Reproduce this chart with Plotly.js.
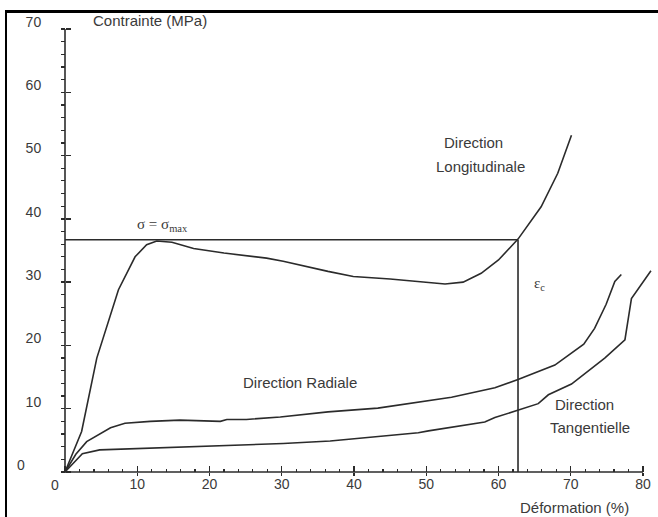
<!DOCTYPE html>
<html>
<head>
<meta charset="utf-8">
<script src="https://cdn.plot.ly/plotly-3.0.1.min.js"></script>
<style>
  html, body { margin: 0; padding: 0; background: #fff; }
  #wrap { position: relative; width: 658px; height: 517px; overflow: hidden; }
  #chart { width: 658px; height: 517px; }
  #frame { position: absolute; left: 5px; top: 10px; width: 800px; height: 700px;
           border-left: 2px solid #000; border-top: 3px solid #000; pointer-events: none; }
</style>
</head>
<body>
<div id="wrap"><div id="chart"></div><div id="frame"></div></div>
<script>
// ---- data ----
const longX = [0, 2.3, 4.4, 7.4, 9.7, 11.3, 12.7, 14.8, 17.8, 22.0, 27.9, 30.2, 36.4, 39.9, 45.0, 52.6, 55.1, 57.6, 60.0, 62.7, 65.9, 68.2, 70.1];
const longY = [0, 6.4, 18.0, 28.8, 34.0, 35.9, 36.5, 36.3, 35.3, 34.6, 33.8, 33.3, 31.7, 30.9, 30.5, 29.7, 30.0, 31.4, 33.5, 36.8, 41.9, 47.2, 53.2];

const radX = [0, 1.5, 3.0, 6.3, 8.3, 11.8, 15.9, 21.5, 22.4, 25.1, 29.8, 33.4, 36.4, 43.3, 52.6, 53.5, 59.5, 61.5, 62.7, 67.8, 71.8, 73.3, 74.9, 76.1, 77.0];
const radY = [0, 2.8, 4.8, 7.0, 7.7, 8.0, 8.2, 8.0, 8.3, 8.3, 8.7, 9.1, 9.5, 10.1, 11.6, 11.8, 13.3, 14.1, 14.6, 16.9, 20.2, 22.7, 26.5, 30.1, 31.2];

const tanX = [0, 2.4, 4.8, 9.5, 16.4, 23.3, 30.2, 36.7, 41.0, 48.9, 50.3, 58.1, 59.5, 62.7, 65.5, 66.9, 70.1, 74.7, 77.5, 78.0, 78.4, 81.1];
const tanY = [0, 2.9, 3.5, 3.7, 3.9, 4.2, 4.5, 4.9, 5.4, 6.2, 6.5, 7.9, 8.6, 9.8, 10.8, 12.2, 13.9, 18.0, 20.9, 24.5, 27.4, 31.8];

const sigmaMax = 36.7;   // horizontal line sigma = sigma_max
const epsC = 62.7;       // vertical line epsilon_c

const xMajor = [0, 10, 20, 30, 40, 50, 60, 70, 80];
const xLabels = ['', '10', '20', '30', '40', '50', '60', '70', '80'];
const yMajor = [0, 10, 20, 30, 40, 50, 60, 70];
const yLabels = ['', '10', '20', '30', '40', '50', '60', '70'];
const X_MAX = 80, Y_MAX = 70, MINOR_STEP = 2;

// ---- layout geometry ----
const W = 658, H = 517;
const mL = 55, mR = 0, mT = 0, mB = 37;
const xRange = [-1.384, 82.076];
const yRange = [-1.264, 74.58];

const xMinor = [], yMinor = [];
for (let v = 0; v <= X_MAX; v += MINOR_STEP) if (v % 10) xMinor.push(v);
for (let v = 0; v <= Y_MAX; v += MINOR_STEP) if (v % 10) yMinor.push(v);

const yAxisPos = (0 - xRange[0]) / (xRange[1] - xRange[0]);
const xAxisPos = (0 - yRange[0]) / (yRange[1] - yRange[0]);

const lineCol = '#2b2b2b';
const txtCol = '#3a3a3a';
const sans = 'Liberation Sans, Arial, sans-serif';
const serif = 'Liberation Serif, Times New Roman, serif';

const lineStyle = {color: lineCol, width: 1.6};
const traces = [
  {x: longX, y: longY, mode: 'lines', line: lineStyle, name: 'Direction Longitudinale'},
  {x: radX, y: radY, mode: 'lines', line: lineStyle, name: 'Direction Radiale'},
  {x: tanX, y: tanY, mode: 'lines', line: lineStyle, name: 'Direction Tangentielle'},
  {x: [0, epsC], y: [sigmaMax, sigmaMax], mode: 'lines', line: lineStyle, name: 'sigma max'},
  {x: [epsC, epsC], y: [sigmaMax, 0], mode: 'lines', line: lineStyle, name: 'eps c'},
  {x: [0], y: [0], mode: 'markers', marker: {opacity: 0}, xaxis: 'x2', yaxis: 'y2', hoverinfo: 'skip'}
];

const tickFont = {family: sans, size: 14, color: txtCol};

const layout = {
  width: W, height: H,
  margin: {l: mL, r: mR, t: mT, b: mB, pad: 0},
  paper_bgcolor: '#fff', plot_bgcolor: '#fff',
  showlegend: false,
  xaxis: {
    range: xRange, anchor: 'free', position: xAxisPos,
    showline: false, showgrid: false, zeroline: false,
    tickmode: 'array', tickvals: xMajor, ticktext: xLabels,
    ticks: 'inside', ticklen: 6, tickwidth: 1.3, tickcolor: lineCol,
    tickfont: tickFont, ticklabelstandoff: 2,
    minor: {tickmode: 'array', tickvals: xMinor, ticks: 'inside', ticklen: 3, tickwidth: 1.2, tickcolor: lineCol, showgrid: false}
  },
  yaxis: {
    range: yRange, anchor: 'free', position: yAxisPos,
    showline: false, showgrid: false, zeroline: false,
    tickmode: 'array', tickvals: yMajor, ticktext: yLabels,
    ticks: 'outside', ticklen: 4, tickwidth: 1.3, tickcolor: lineCol,
    tickfont: tickFont, ticklabelstandoff: 17, ticklabelshift: -7,
    minor: {tickmode: 'array', tickvals: yMinor, ticks: 'outside', ticklen: 4, tickwidth: 1.2, tickcolor: lineCol, showgrid: false}
  },
  xaxis2: {
    range: xRange, overlaying: 'x', anchor: 'free', position: xAxisPos,
    showline: false, showgrid: false, zeroline: false, showticklabels: false,
    tickmode: 'array', tickvals: xMajor.slice(1),
    ticks: 'outside', ticklen: 3, tickwidth: 1.3, tickcolor: lineCol
  },
  yaxis2: {
    range: yRange, overlaying: 'y', anchor: 'free', position: yAxisPos,
    showline: false, showgrid: false, zeroline: false, showticklabels: false,
    tickmode: 'array', tickvals: yMajor,
    ticks: 'inside', ticklen: 5, tickwidth: 1.3, tickcolor: lineCol
  },
  shapes: [
    {type: 'line', xref: 'x', yref: 'y', x0: 0, x1: X_MAX, y0: 0, y1: 0, line: {color: lineCol, width: 1.6}},
    {type: 'line', xref: 'x', yref: 'y', x0: 0, x1: 0, y0: 0, y1: Y_MAX, line: {color: lineCol, width: 1.6}}
  ],
  annotations: [
    {text: 'Contrainte (MPa)', x: 3.6, y: 71.4, xref: 'x', yref: 'y', xanchor: 'left', yanchor: 'middle', showarrow: false, font: {family: sans, size: 15, color: txtCol}},
    {text: 'Déformation (%)', x: 0.8607, y: -0.0583, xref: 'paper', yref: 'paper', xanchor: 'center', yanchor: 'middle', showarrow: false, font: {family: sans, size: 15, color: txtCol}},
    {text: '0', x: -0.0556, y: 0.03125, xref: 'paper', yref: 'paper', xanchor: 'center', yanchor: 'middle', showarrow: false, font: tickFont},
    {text: '0', x: 0.0, y: -0.0104, xref: 'paper', yref: 'paper', xanchor: 'center', yanchor: 'middle', showarrow: false, font: tickFont},
    {text: 'σ = σ<sub>max</sub>', x: 9.69, y: 39.0, xref: 'x', yref: 'y', xanchor: 'left', yanchor: 'middle', showarrow: false, font: {family: serif, size: 15, color: txtCol}},
    {text: 'ε<sub>c</sub>', x: 64.6, y: 29.7, xref: 'x', yref: 'y', xanchor: 'left', yanchor: 'middle', showarrow: false, font: {family: serif, size: 15, color: txtCol}},
    {text: 'Direction', x: 56.47, y: 52.14, xref: 'x', yref: 'y', xanchor: 'center', yanchor: 'middle', showarrow: false, font: {family: sans, size: 15, color: txtCol}},
    {text: 'Longitudinale', x: 57.44, y: 48.35, xref: 'x', yref: 'y', xanchor: 'center', yanchor: 'middle', showarrow: false, font: {family: sans, size: 15, color: txtCol}},
    {text: 'Direction Radiale', x: 32.53, y: 14.22, xref: 'x', yref: 'y', xanchor: 'center', yanchor: 'middle', showarrow: false, font: {family: sans, size: 15, color: txtCol}},
    {text: 'Direction', x: 71.97, y: 10.59, xref: 'x', yref: 'y', xanchor: 'center', yanchor: 'middle', showarrow: false, font: {family: sans, size: 15, color: txtCol}},
    {text: 'Tangentielle', x: 72.66, y: 7.11, xref: 'x', yref: 'y', xanchor: 'center', yanchor: 'middle', showarrow: false, font: {family: sans, size: 15, color: txtCol}}
  ]
};

Plotly.newPlot('chart', traces, layout, {staticPlot: true, displayModeBar: false});
</script>
</body>
</html>
